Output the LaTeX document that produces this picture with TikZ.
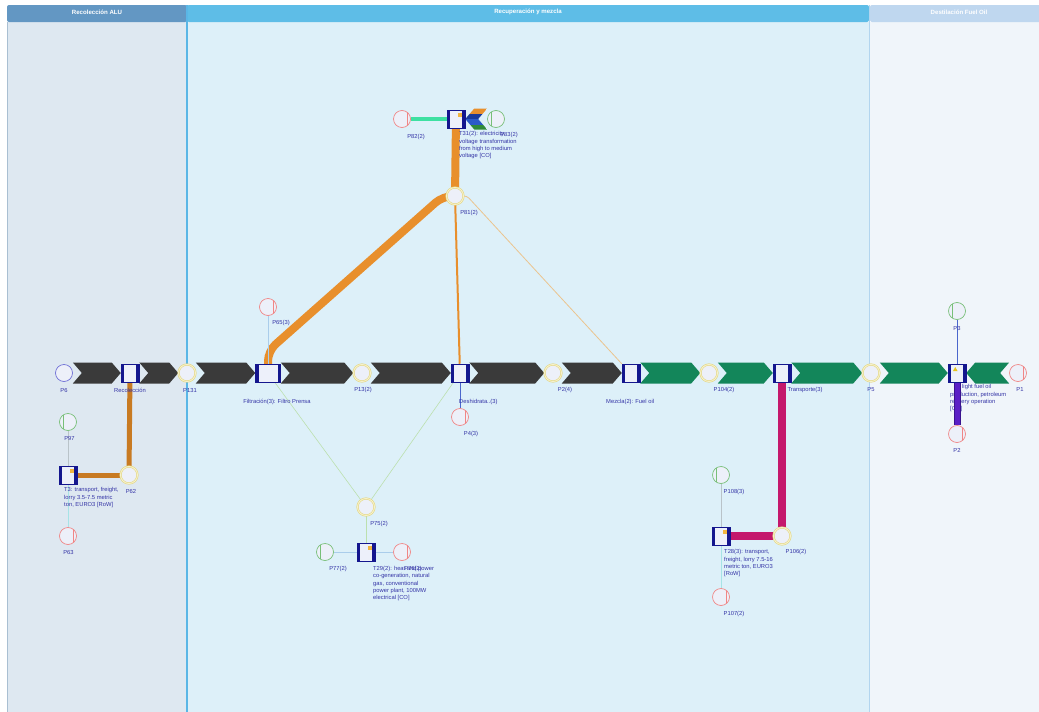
\documentclass[tikz,border=0pt]{standalone}
\usepackage{fontspec}
\setmainfont{Liberation Sans}
\usetikzlibrary{calc}

\definecolor{headA}{HTML}{6397C3}
\definecolor{headB}{HTML}{5EBDE7}
\definecolor{headC}{HTML}{BFD7EF}
\definecolor{bodyA}{HTML}{DEE8F1}
\definecolor{bodyB}{HTML}{DDF0F9}
\definecolor{bodyC}{HTML}{F0F5FA}
\definecolor{laneedge}{HTML}{5AB6E6}
\definecolor{laneedgeC}{HTML}{B2D5EF}
\definecolor{laneedgeA}{HTML}{A9BFD2}
\definecolor{placefill}{HTML}{EDF0F9}
\definecolor{pblue}{HTML}{6F70D6}
\definecolor{pyellow}{HTML}{E3D67E}
\definecolor{pyellowin}{HTML}{F6F1CC}
\definecolor{pred}{HTML}{F08686}
\definecolor{pgreen}{HTML}{78BF78}
\definecolor{boxfill}{HTML}{EDF0FA}
\definecolor{boxnavy}{HTML}{14168E}
\definecolor{lblc}{HTML}{3434A6}
\definecolor{flowdark}{HTML}{3A3A3A}
\definecolor{flowgreen}{HTML}{13865A}
\definecolor{orangeflow}{HTML}{E88F2C}
\definecolor{tanflow}{HTML}{EBC48E}
\definecolor{brownflow}{HTML}{C87A22}
\definecolor{magflow}{HTML}{C4186C}
\definecolor{purpflow}{HTML}{5B1FC6}
\definecolor{purpedge}{HTML}{3A128E}
\definecolor{tealflow}{HTML}{3EE0A2}
\definecolor{thinblue}{HTML}{AACDEB}
\definecolor{thingreen}{HTML}{BCE0AE}
\definecolor{thingray}{HTML}{B9C3C9}
\definecolor{thincyan}{HTML}{A6E3E6}
\definecolor{midblue}{HTML}{4A66CC}
\definecolor{lockc}{HTML}{F2B540}
\definecolor{warnc}{HTML}{E8C21A}
\definecolor{stripeNavy}{HTML}{1A3A9A}
\definecolor{stripeBlue}{HTML}{2A5AC8}
\definecolor{stripeGreen}{HTML}{2E8A3A}

\pgfdeclarelayer{lanes}
\pgfdeclarelayer{links}
\pgfsetlayers{lanes,links,main}

% forward flow chevron between two nodes
\newcommand\flowfw[3]{%
  \fill[#3] let \p1=(#1.east), \p2=(#2.west) in
    (\x1,\y1+10.5pt) -- (\x2-9pt,\y1+10.5pt) -- (\x2,\y1) -- (\x2-9pt,\y1-10.5pt)
    -- (\x1,\y1-10.5pt) -- (\x1+9pt,\y1) -- cycle;}
% backward flow chevron (pointing to the left node)
\newcommand\flowbk[3]{%
  \fill[#3] let \p1=(#1.east), \p2=(#2.west) in
    (\x1,\y1) -- (\x1+9pt,\y1+10.5pt) -- (\x2,\y1+10.5pt) -- (\x2-9pt,\y1)
    -- (\x2,\y1-10.5pt) -- (\x1+9pt,\y1-10.5pt) -- cycle;}

\tikzset{
  place/.style={circle, minimum size=17pt, inner sep=0pt, fill=placefill, line width=0.7pt},
  pin/.style={place, draw=pblue},
  pmid/.style={place, draw=pyellow, line width=0.55pt, double=pyellowin, double distance=1pt},
  pout/.style={place, draw=pred, path picture={\draw[pred,line width=0.6pt]
      ([xshift=5pt]path picture bounding box.north) -- ([xshift=5pt]path picture bounding box.south);}},
  pres/.style={place, draw=pgreen, path picture={\draw[pgreen,line width=0.6pt]
      ([xshift=-4.5pt]path picture bounding box.north) -- ([xshift=-4.5pt]path picture bounding box.south);}},
  boxbase/.style={rectangle, minimum width=18pt, minimum height=18pt, inner sep=0pt,
      fill=boxfill, draw=boxnavy, line width=0.5pt},
  procbox/.style={boxbase, path picture={
      \fill[boxnavy] (path picture bounding box.south west) rectangle ([xshift=3pt]path picture bounding box.north west);
      \fill[boxnavy] ([xshift=-3pt]path picture bounding box.south east) rectangle (path picture bounding box.north east);}},
  lockbox/.style={boxbase, path picture={
      \fill[boxnavy] (path picture bounding box.south west) rectangle ([xshift=3pt]path picture bounding box.north west);
      \fill[boxnavy] ([xshift=-3pt]path picture bounding box.south east) rectangle (path picture bounding box.north east);
      \fill[lockc] ([shift={(-7pt,-6.5pt)}]path picture bounding box.north east) rectangle ++(3.5pt,3.5pt);}},
  warnbox/.style={boxbase, path picture={
      \fill[boxnavy] (path picture bounding box.south west) rectangle ([xshift=3pt]path picture bounding box.north west);
      \fill[boxnavy] ([xshift=-3pt]path picture bounding box.south east) rectangle (path picture bounding box.north east);
      \fill[warnc] ([shift={(-4pt,2pt)}]path picture bounding box.center) -- ++(4.5pt,0pt) -- ++(-2.25pt,4pt) -- cycle;}},
  lbl/.style={font=\fontsize{5.8}{7.3}\selectfont, text=lblc, inner sep=0pt},
  lblblock/.style={lbl, align=left, anchor=north west},
  headtxt/.style={font=\fontsize{6.1}{7}\selectfont\bfseries, text=white, inner sep=0pt},
  thick8/.style={line width=8pt},
  link/.style={line width=0.6pt},
}

\begin{document}
\begin{tikzpicture}[x=1pt, y=-1pt]
\useasboundingbox (0,0) rectangle (1039,712);

% ---------- swimlanes ----------
\begin{pgfonlayer}{lanes}
  \fill[white] (0,0) rectangle (1039,712);
  \fill[bodyA] (7,22) rectangle (187,712);
  \fill[bodyB] (187,22) rectangle (869,712);
  \fill[bodyC] (869,22) rectangle (1039,712);
  \fill[headA, rounded corners=2pt] (7,5) rectangle (187,22);
  \fill[headB, rounded corners=2pt] (187,5) rectangle (869,22);
  \fill[headC, rounded corners=2pt] (870,5) rectangle (1045,22);
  \draw[laneedgeA, line width=0.6pt] (7,22) -- (7,712);
  \draw[laneedge, line width=1.4pt] (187,5) -- (187,712);
  \draw[laneedgeC, line width=1.4pt] (869.5,5) -- (869.5,712);
  \node[headtxt] (hA) at (97,12) {Recolección ALU};
  \node[headtxt] (hB) at (528,12) {Recuperación y mezcla};
  \node[headtxt] (hC) at (959,12) {Destilación Fuel Oil};
\end{pgfonlayer}

% ---------- main line ----------
\node[pin]      (P6)       at (64,373)  {};
\node[procbox]  (Rec)      at (130,373) {};
\node[pmid]     (P131)     at (187,373) {};
\node[procbox, minimum width=25pt] (Filt) at (268,373) {};
\node[pmid]     (P13)      at (362,373) {};
\node[procbox]  (Desh)     at (460,373) {};
\node[pmid]     (Ptwofour) at (553,373) {};
\node[procbox]  (Mez)      at (631,373) {};
\node[pmid]     (P104)     at (709,373) {};
\node[procbox]  (Trans)    at (782,373) {};
\node[pmid]     (P5)       at (871,373) {};
\node[warnbox]  (Tfo)      at (957,373) {};
\node[pout]     (P1)       at (1018,373) {};
\node[pres]     (P3)       at (957,311) {};
\node[pout]     (Ptwo)     at (957,434) {};

% ---------- upper branch ----------
\node[lockbox]  (T31) at (456,119) {};
\node[pout]     (P82) at (402,119) {};
\node[pres]     (P83) at (496,119) {};
\node[pmid]     (P81) at (455,196) {};
\node[pout]     (P65) at (268,307) {};
\node[pout]     (P4)  at (460,417) {};

% ---------- lower branches ----------
\node[pmid]     (P75)  at (366,507) {};
\node[lockbox]  (T29)  at (366,552) {};
\node[pres]     (P77)  at (325,552) {};
\node[pout]     (P76)  at (402,552) {};

\node[lockbox]  (T3)   at (68,475) {};
\node[pres]     (P97)  at (68,422) {};
\node[pout]     (P63)  at (68,536) {};
\node[pmid]     (P62)  at (129,475) {};

\node[lockbox]  (T28)  at (721,536) {};
\node[pres]     (P108) at (721,475) {};
\node[pout]     (P107) at (721,597) {};
\node[pmid]     (P106) at (782,536) {};

% ---------- flows and links ----------
\begin{pgfonlayer}{links}
  \flowfw{P6}{Rec}{flowdark}
  \flowfw{Rec}{P131}{flowdark}
  \flowfw{P131}{Filt}{flowdark}
  \flowfw{Filt}{P13}{flowdark}
  \flowfw{P13}{Desh}{flowdark}
  \flowfw{Desh}{Ptwofour}{flowdark}
  \flowfw{Ptwofour}{Mez}{flowdark}
  \flowfw{Mez}{P104}{flowgreen}
  \flowfw{P104}{Trans}{flowgreen}
  \flowfw{Trans}{P5}{flowgreen}
  \flowfw{P5}{Tfo}{flowgreen}
  \flowbk{Tfo}{P1}{flowgreen}

  % striped chevron feeding the transformer
  \begin{scope}
    \clip let \p1=(T31.east), \p2=(P83.west) in
      (\x1,\y1) -- (\x1+9pt,\y1+10.5pt) -- (\x2,\y1+10.5pt) -- (\x2-9pt,\y1)
      -- (\x2,\y1-10.5pt) -- (\x1+9pt,\y1-10.5pt) -- cycle;
    \fill[orangeflow]  ($(T31.east)+(0,-11)$) rectangle ($(P83.west)+(0,-5.5)$);
    \fill[stripeNavy]  ($(T31.east)+(0,-5.5)$) rectangle ($(P83.west)+(0,0)$);
    \fill[stripeBlue]  ($(T31.east)+(0,0)$)   rectangle ($(P83.west)+(0,5.5)$);
    \fill[stripeGreen] ($(T31.east)+(0,5.5)$) rectangle ($(P83.west)+(0,11)$);
  \end{scope}

  \draw[tealflow, line width=4pt] (P82) -- (T31);
  \draw[orangeflow, thick8] (T31) -- (P81);
  \draw[orangeflow, thick8, rounded corners=10pt]
    (P81.center) -- ([xshift=-12pt]P81.center) -- ([yshift=22pt]Filt.center) -- (Filt.center);
  \draw[orangeflow, line width=2pt] (P81) -- (Desh);
  \draw[tanflow, line width=0.8pt, rounded corners=3pt]
    (P81.center) -- ([xshift=12pt]P81.center) -- (Mez.north west);

  \draw[thinblue, link] (P65) -- (Filt);
  \draw[thingreen, link] (Filt) -- (P75);
  \draw[thingreen, link] (Desh) -- (P75);
  \draw[midblue, line width=0.8pt] (Desh) -- (P4);
  \draw[thingreen, link] (P75) -- (T29);
  \draw[thinblue, link] (P77) -- (T29);
  \draw[thinblue, link] (T29) -- (P76);

  \draw[brownflow, line width=5pt] (Rec) -- (P62);
  \draw[brownflow, line width=5pt] (T3) -- (P62);
  \draw[thingray, link] (P97) -- (T3);
  \draw[thincyan, link] (T3) -- (P63);

  \draw[magflow, thick8] (Trans) -- (P106);
  \draw[magflow, thick8] (T28) -- (P106);
  \draw[thingray, link] (P108) -- (T28);
  \draw[thincyan, link] (T28) -- (P107);

  \draw[midblue, line width=0.8pt] (P3) -- (Tfo);
  \node[lblblock] (LTfo) at (950,384.5)
    {\hspace*{12pt}light fuel oil\\production, petroleum\\refinery operation\\{[CO]}};
  \draw[purpedge, line width=7pt] (Tfo) -- (Ptwo);
  \draw[purpflow, line width=5pt] (Tfo) -- (Ptwo);
\end{pgfonlayer}

% ---------- labels ----------
\node[lbl] (LP6)   at (64,390)    {P6};
\node[lbl] (LRec)  at (130,390)   {Recolección};
\node[lbl] (LP131) at (190,390)   {P131};
\node[lbl] (LFilt) at (277,401.5) {Filtración(3): Filtro Prensa};
\node[lbl] (LP13)  at (363,390)   {P13(2)};
\node[lbl, anchor=west] (LDesh) at (459,401.5) {Deshidrata..(3)};
\node[lbl] (LP4)   at (471,434)   {P4(3)};
\node[lbl] (LPtf)  at (565,390)   {P2(4)};
\node[lbl, anchor=west] (LMez) at (606,401.5) {Mezcla(2): Fuel oil};
\node[lbl] (LP104) at (724,390)   {P104(2)};
\node[lbl] (LTrans) at (805,390)  {Transporte(3)};
\node[lbl] (LP5)   at (871,390)   {P5};
\node[lbl] (LP1)   at (1020,390)  {P1};
\node[lbl] (LP3)   at (957,328)   {P3};
\node[lbl] (LPtwo) at (957,450.5) {P2};

\node[lblblock] (LT31) at (459,131.5)
  {T31(2): electricity,\\voltage transformation\\from high to medium\\voltage [CO]};
\node[lbl] (LP82)  at (416,136.5) {P82(2)};
\node[lbl] (LP83)  at (509,134.5) {P83(2)};
\node[lbl] (LP81)  at (469,213)   {P81(2)};
\node[lbl] (LP65)  at (281,323)   {P65(3)};

\node[lbl] (LP75)  at (379,524)   {P75(2)};
\node[lbl] (LP77)  at (338,569)   {P77(2)};
\node[lbl] (LP76)  at (413,569)   {P76(2)};
\node[lblblock] (LT29) at (373,566)
  {T29(2): heat and power\\co-generation, natural\\gas, conventional\\power plant, 100MW\\electrical [CO]};

\node[lbl] (LP97)  at (69.5,438)  {P97};
\node[lbl] (LP63)  at (68.5,552.5) {P63};
\node[lbl] (LP62)  at (131,491)   {P62};
\node[lblblock] (LT3) at (64,487.5)
  {T3: transport, freight,\\lorry 3.5-7.5 metric\\ton, EURO3 [RoW]};

\node[lbl] (LP108) at (734,492)   {P108(3)};
\node[lbl] (LP107) at (734,614)   {P107(2)};
\node[lbl] (LP106) at (796,552)   {P106(2)};
\node[lblblock] (LT28) at (724,549.5)
  {T28(3): transport,\\freight, lorry 7.5-16\\metric ton, EURO3\\{[RoW]}};
\end{tikzpicture}
\end{document}
